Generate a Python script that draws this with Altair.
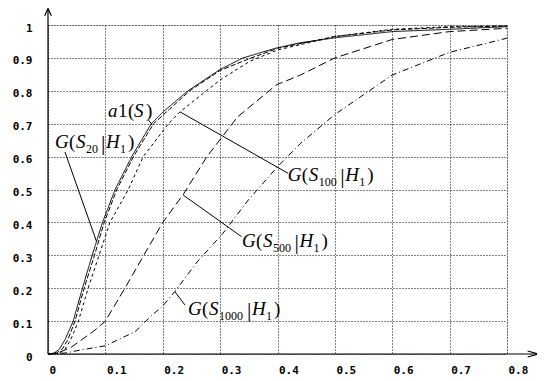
import altair as alt
import pandas as pd

# ---- curve data ----
a1_x = [0, 0.01, 0.02, 0.03, 0.044, 0.06, 0.077, 0.095, 0.117, 0.146, 0.18, 0.2, 0.244, 0.3, 0.34, 0.4, 0.44, 0.5, 0.6, 0.7, 0.8]
a1_y = [0, 0.002, 0.015, 0.045, 0.1, 0.2, 0.3, 0.4, 0.5, 0.6, 0.7, 0.735, 0.8, 0.865, 0.9, 0.931, 0.946, 0.961, 0.98, 0.987, 0.995]

s20_x = [0, 0.015, 0.025, 0.035, 0.047, 0.063, 0.081, 0.098, 0.12, 0.149, 0.184, 0.247, 0.3, 0.35, 0.4, 0.5, 0.6, 0.7, 0.8]
s20_y = [0, 0.003, 0.015, 0.045, 0.1, 0.2, 0.3, 0.4, 0.5, 0.6, 0.7, 0.8, 0.862, 0.897, 0.929, 0.965, 0.985, 0.993, 0.997]

s100_x = [0, 0.02, 0.03, 0.04, 0.053, 0.07, 0.089, 0.108, 0.14, 0.166, 0.21, 0.23, 0.276, 0.3, 0.352, 0.4, 0.5, 0.6, 0.7, 0.8]
s100_y = [0, 0.003, 0.015, 0.045, 0.1, 0.2, 0.3, 0.4, 0.5, 0.6, 0.7, 0.736, 0.8, 0.833, 0.89, 0.924, 0.965, 0.987, 0.995, 0.997]

s500_x = [0, 0.02, 0.04, 0.06, 0.08, 0.1, 0.134, 0.167, 0.2, 0.235, 0.277, 0.33, 0.398, 0.44, 0.5, 0.6, 0.7, 0.8]
s500_y = [0, 0.005, 0.02, 0.045, 0.07, 0.1, 0.2, 0.3, 0.4, 0.483, 0.6, 0.72, 0.818, 0.848, 0.9, 0.956, 0.98, 0.99]

s1000_x = [0, 0.03, 0.056, 0.1, 0.152, 0.178, 0.2, 0.221, 0.26, 0.305, 0.35, 0.4, 0.44, 0.5, 0.6, 0.7, 0.8]
s1000_y = [0, 0.003, 0.012, 0.025, 0.068, 0.113, 0.146, 0.19, 0.28, 0.367, 0.47, 0.569, 0.64, 0.728, 0.848, 0.917, 0.96]

x_ticks = [0, 0.1, 0.2, 0.3, 0.4, 0.5, 0.6, 0.7, 0.8]
y_ticks = [0, 0.1, 0.2, 0.3, 0.4, 0.5, 0.6, 0.7, 0.8, 0.9, 1]

series_names = ["a1", "S20", "S100", "S500", "S1000"]
series_dash = [[1, 0], [5, 2], [3, 3], [8, 4], [6, 3, 1, 3]]

# pointer lines from labels to curves (x, y, x2, y2)
ptr_x = [0.0296, 0.175, 0.23, 0.2357, 0.2213]
ptr_y = [0.614, 0.711, 0.736, 0.483, 0.189]
ptr_x2 = [0.0848, 0.182, 0.4186, 0.3375, 0.2387]
ptr_y2 = [0.341, 0.696, 0.549, 0.3565, 0.149]

# label anchors (left/baseline)
lab_x = [0.0122, 0.1045, 0.418, 0.338, 0.244]
lab_y = [0.626, 0.72, 0.526, 0.325, 0.1185]
lab_sub = ["20", None, "100", "500", "1000"]

# axis arrows
ax_x = [0, 0, 0.836, 0.836, -0.0058, 0.0058]
ax_y = [0, 0, 0.009, -0.009, 1.028, 1.028]
ax_x2 = [0.854, 0, 0.854, 0.854, 0, 0]
ax_y2 = [0, 1.05, 0, 0, 1.05, 1.05]

rows = []
for name, xs, ys in zip(series_names,
                        [a1_x, s20_x, s100_x, s500_x, s1000_x],
                        [a1_y, s20_y, s100_y, s500_y, s1000_y]):
    for xv, yv in zip(xs, ys):
        rows.append({"series": name, "x": xv, "y": yv})
df = pd.DataFrame(rows)

xscale = alt.Scale(domain=[0, 0.8], nice=False, zero=False)
yscale = alt.Scale(domain=[0, 1], nice=False, zero=False)
LABFONT = "DejaVu Sans Mono"

xaxis = alt.Axis(values=x_ticks, tickCount=len(x_ticks), title=None, domain=False, ticks=False,
                 labelFont=LABFONT, labelFontWeight="bold", labelFontSize=11,
                 labelColor="black", labelAlign="left", labelBaseline="top",
                 labelPadding=10, labelOffset=1, labelOverlap=False,
                 grid=True, gridColor="black", gridOpacity=1, gridDash=[1, 2], gridWidth=1,
                 labelExpr="datum.value == 0 ? '0' : format(datum.value, '.1f')")
yaxis = alt.Axis(values=y_ticks, tickCount=len(y_ticks), title=None, domain=False, ticks=False,
                 labelFont=LABFONT, labelFontWeight="bold", labelFontSize=11,
                 labelColor="black", labelAlign="right", labelBaseline="middle",
                 labelPadding=16, labelOffset=3, labelOverlap=False,
                 grid=True, gridColor="black", gridOpacity=1, gridDash=[1, 2], gridWidth=1,
                 labelExpr="datum.value == 0 ? '0' : datum.value == 1 ? '1' : format(datum.value, '.1f')")

lines = alt.Chart(df).mark_line(color="black", strokeWidth=1).encode(
    x=alt.X("x:Q", scale=xscale, axis=xaxis),
    y=alt.Y("y:Q", scale=yscale, axis=yaxis),
    strokeDash=alt.StrokeDash("series:N", scale=alt.Scale(domain=series_names, range=series_dash), legend=None),
    detail="series:N",
)

ptr_df = pd.DataFrame({"x": ptr_x, "y": ptr_y, "x2": ptr_x2, "y2": ptr_y2})
pointers = alt.Chart(ptr_df).mark_rule(color="black", strokeWidth=1).encode(
    x="x:Q", y="y:Q", x2="x2:Q", y2="y2:Q")

ax_df = pd.DataFrame({"x": ax_x, "y": ax_y, "x2": ax_x2, "y2": ax_y2})
axes_lines = alt.Chart(ax_df).mark_rule(color="black", strokeWidth=1.2).encode(
    x="x:Q", y="y:Q", x2="x2:Q", y2="y2:Q")

SERIF = "Liberation Serif"


def piece(xv, yv, text, dx, dy=0, size=19, style="normal"):
    return alt.Chart(pd.DataFrame({"x": [xv], "y": [yv], "t": [text]})).mark_text(
        align="left", baseline="alphabetic", dx=dx, dy=dy, fontSize=size,
        font=SERIF, fontStyle=style, color="black").encode(
        x="x:Q", y="y:Q", text="t:N")


texts = []
for lx, ly, sub in zip(lab_x, lab_y, lab_sub):
    if sub is None:
        texts += [piece(lx, ly, "a", 0, style="italic"),
                  piece(lx, ly, "1", 10),
                  piece(lx, ly, "(", 20),
                  piece(lx, ly, "S", 26, style="italic"),
                  piece(lx, ly, ")", 38)]
    else:
        bar = 32 + 6.5 * len(sub) + 1
        texts += [piece(lx, ly, "G", 0, style="italic"),
                  piece(lx, ly, "(", 14),
                  piece(lx, ly, "S", 21, style="italic"),
                  piece(lx, ly, sub, 31, dy=5, size=12),
                  piece(lx, ly, "|", bar, dy=2, size=22),
                  piece(lx, ly, "H", bar + 5, style="italic"),
                  piece(lx, ly, "1", bar + 19, dy=5, size=12),
                  piece(lx, ly, ")", bar + 27)]

chart = alt.layer(lines, pointers, axes_lines, *texts).properties(
    width=459, height=329,
    autosize=alt.AutoSizeParams(type="none"),
    padding={"left": 40, "top": 17, "right": 30, "bottom": 28},
).configure_view(strokeWidth=0).configure(background="white")

chart.save("out.html", embed_options={"renderer": "svg", "actions": False})
